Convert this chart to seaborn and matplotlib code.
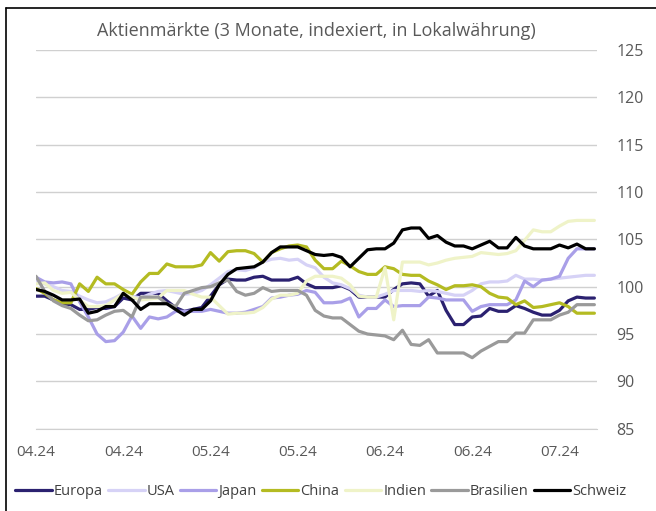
import pandas as pd
import matplotlib.pyplot as plt
import seaborn as sns
from matplotlib.lines import Line2D

# 65 trading days, mid-April to mid-July 2024
dates = pd.bdate_range('2024-04-15', periods=65)

europa = [99.0, 99.0, 98.6, 98.2, 98.1, 97.6, 97.6, 97.8, 97.7, 97.9,
          98.8, 98.6, 99.3, 99.3, 99.3, 98.5, 97.8, 97.4, 97.6, 97.8,
          99.0, 100.2, 100.8, 100.7, 100.7, 101.0, 101.1, 100.7, 100.7, 100.7,
          101.0, 100.3, 99.9, 99.9, 99.9, 100.1, 99.7, 98.9, 98.9, 98.9,
          98.9, 99.7, 100.3, 100.4, 100.3, 99.0, 99.6, 97.5, 96.0, 96.0,
          96.8, 96.9, 97.7, 97.4, 97.4, 98.0, 97.7, 97.3, 97.0, 97.0,
          97.5, 98.5, 98.9, 98.8, 98.8]
usa = [100.7, 100.3, 100.0, 99.6, 99.5, 99.0, 98.6, 98.3, 98.4, 98.8,
       99.3, 99.0, 98.8, 99.2, 99.5, 99.6, 99.4, 99.2, 99.3, 99.6,
       100.2, 100.9, 101.6, 101.8, 101.7, 102.0, 102.6, 102.9, 103.0, 102.8,
       102.9, 102.3, 102.0, 101.0, 100.4, 100.2, 99.8, 99.1, 98.9, 98.9,
       99.2, 99.6, 99.6, 99.6, 99.5, 99.6, 99.5, 99.3, 99.1, 99.1,
       99.6, 100.3, 100.5, 100.5, 100.6, 101.2, 100.8, 100.8, 100.7, 100.8,
       100.9, 101.0, 101.1, 101.2, 101.2]
japan = [101.0, 100.5, 100.4, 100.5, 100.3, 98.4, 96.8, 95.0, 94.2, 94.3,
         95.2, 96.9, 95.6, 96.8, 96.6, 96.8, 97.4, 97.4, 97.4, 97.4,
         97.6, 97.4, 97.2, 97.2, 97.3, 97.6, 97.9, 98.8, 98.9, 99.1,
         99.2, 99.6, 99.4, 98.3, 98.3, 98.4, 98.8, 96.8, 97.7, 97.7,
         98.6, 97.9, 98.0, 98.0, 98.0, 98.9, 98.8, 98.6, 98.6, 98.6,
         97.4, 97.9, 98.1, 98.1, 98.1, 98.6, 100.6, 100.0, 100.7, 100.8,
         101.1, 103.0, 104.0, 104.0, 104.0]
china = [99.8, 99.3, 98.6, 98.3, 98.3, 100.3, 99.5, 101.0, 100.3, 100.3,
         99.7, 99.2, 100.5, 101.4, 101.4, 102.4, 102.1, 102.1, 102.1, 102.3,
         103.6, 102.7, 103.7, 103.8, 103.8, 103.5, 102.6, 103.6, 104.0, 104.3,
         104.4, 104.2, 102.8, 101.9, 101.9, 102.7, 102.2, 101.6, 101.3, 101.3,
         102.1, 101.9, 101.3, 101.2, 101.2, 100.6, 100.2, 99.7, 100.1, 100.1,
         100.2, 100.0, 99.3, 98.9, 98.8, 98.1, 98.5, 97.8, 97.9, 98.1,
         98.3, 97.9, 97.2, 97.2, 97.2]
indien = [100.3, 100.4, 99.6, 99.3, 99.4, 98.6, 97.9, 97.9, 98.0, 98.6,
          99.3, 98.9, 98.6, 98.7, 98.8, 99.6, 99.6, 99.6, 99.2, 98.9,
          98.9, 98.0, 97.1, 97.2, 97.2, 97.3, 97.8, 98.7, 99.1, 99.1,
          99.3, 100.6, 101.1, 101.1, 101.1, 100.9, 100.2, 99.0, 98.9, 98.9,
          102.0, 96.5, 102.6, 102.6, 102.6, 102.3, 102.5, 102.8, 103.0, 103.1,
          103.2, 103.6, 103.5, 103.4, 103.5, 103.8, 104.9, 106.0, 105.8, 105.8,
          106.4, 106.9, 107.0, 107.0, 107.0]
brasilien = [101.1, 99.5, 98.5, 98.0, 97.7, 97.0, 96.4, 96.5, 97.0, 97.4,
             97.5, 96.8, 98.9, 98.9, 98.9, 98.2, 97.9, 99.3, 99.6, 99.9,
             100.0, 100.4, 100.7, 99.5, 99.1, 99.3, 99.9, 99.5, 99.6, 99.6,
             99.6, 99.1, 97.5, 96.9, 96.7, 96.7, 96.0, 95.3, 95.0, 94.9,
             94.8, 94.4, 95.4, 93.9, 93.8, 94.4, 93.0, 93.0, 93.0, 93.0,
             92.5, 93.2, 93.7, 94.2, 94.2, 95.1, 95.1, 96.5, 96.5, 96.5,
             97.0, 97.3, 98.1, 98.1, 98.1]
schweiz = [99.7, 99.5, 99.1, 98.6, 98.6, 98.7, 97.2, 97.4, 97.9, 97.9,
           99.3, 98.6, 97.6, 98.2, 98.2, 98.2, 97.6, 97.0, 97.6, 97.6,
           98.5, 100.2, 101.3, 101.9, 102.0, 102.1, 102.6, 103.6, 104.2, 104.2,
           104.2, 103.8, 103.4, 103.3, 103.4, 103.1, 102.1, 103.0, 103.9, 104.0,
           104.0, 104.6, 106.0, 106.2, 106.2, 105.1, 105.4, 104.7, 104.3, 104.3,
           104.0, 104.4, 104.8, 104.1, 104.1, 105.2, 104.3, 104.0, 104.0, 104.0,
           104.4, 104.1, 104.5, 104.0, 104.0]

names = ['Europa', 'USA', 'Japan', 'China', 'Indien', 'Brasilien', 'Schweiz']
colors = ['#2b2170', '#d6d2f6', '#a99fe8', '#b4bb22', '#eff3c8', '#9a9a9a', '#000000']
yticks = [85, 90, 95, 100, 105, 110, 115, 120, 125]

df = pd.DataFrame({'Tag': range(len(dates)), 'Europa': europa, 'USA': usa, 'Japan': japan,
                   'China': china, 'Indien': indien, 'Brasilien': brasilien, 'Schweiz': schweiz})
df = df.melt(id_vars='Tag', var_name='Markt', value_name='Index')

sns.set_style('white')
plt.rcParams['font.family'] = ['Open Sans', 'DejaVu Sans']

W, H = 656, 511
fig = plt.figure(figsize=(W / 100, H / 100), dpi=100)
ax = fig.add_axes([36 / W, 1 - 428.7 / H, (597 - 36) / W, (428.7 - 50) / H])

sns.lineplot(data=df, x='Tag', y='Index', hue='Markt', hue_order=names,
             palette=colors, linewidth=2.3, ax=ax)

ax.set_xlim(0, 64.3)
ax.set_ylim(85, 125)
ax.set_yticks(yticks)
ax.yaxis.tick_right()
ax.set_xticks(range(0, 65, 10))
ax.set_xticklabels([dates[i].strftime('%m.%y') for i in range(0, 65, 10)])
ax.set_xlabel('')
ax.set_ylabel('')
ax.grid(axis='y', color='#d0d0d0', linewidth=1)
ax.set_axisbelow(True)
for s in ['top', 'left', 'right']:
    ax.spines[s].set_visible(False)
ax.spines['bottom'].set_color('#d0d0d0')
ax.tick_params(axis='x', direction='out', length=6, color='#d0d0d0',
               labelsize=11, labelcolor='#595959', pad=6)
ax.tick_params(axis='y', length=0, labelsize=11.5, labelcolor='#595959', pad=14)

sns.move_legend(ax, 'center', bbox_to_anchor=(0.508, -0.167), ncol=7, frameon=False,
                title=None, fontsize=10.5, handlelength=2.5, handletextpad=0.15,
                columnspacing=0.35)
for t in ax.get_legend().get_texts():
    t.set_color('#404040')

fig.text(316 / W, 1 - 31 / H, 'Aktienmärkte (3 Monate, indexiert, in Lokalwährung)',
         ha='center', va='center', fontsize=13, color='#595959')

# frame lines on the left and top
fig.add_artist(Line2D([5.5 / W, 5.5 / W], [0, 1 - 8 / H], color='black', linewidth=1.2))
fig.add_artist(Line2D([5.5 / W, 1], [1 - 8 / H, 1 - 8 / H], color='black', linewidth=1.2))

fig.savefig('out.png', dpi=100)
